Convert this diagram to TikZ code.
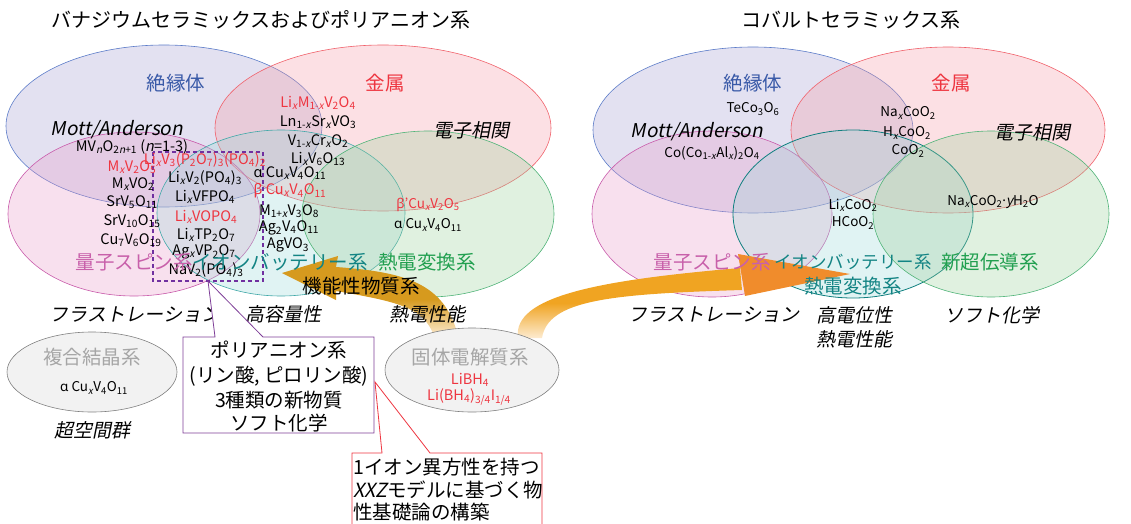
\documentclass[tikz,border=0pt]{standalone}
\usepackage{fontspec}
\setmainfont{Noto Sans CJK JP}[AutoFakeSlant=0.2]
\newfontfamily\gr{Noto Sans}
\usetikzlibrary{shapes.geometric}
\newcommand\fz[2]{\fontsize{#1}{#2}\selectfont}
\newcommand\sbs[1]{\textsubscript{#1}}
\newcommand\sbx{\textsubscript{\itshape x}}
\definecolor{cblue}{HTML}{3A5AA8}
\definecolor{cred}{HTML}{EE3540}
\definecolor{cpinkt}{HTML}{C860AA}
\definecolor{ctealt}{HTML}{138484}
\definecolor{cgreent}{HTML}{22A050}
\definecolor{cgrayt}{HTML}{A6A6A6}
\definecolor{fblue}{HTML}{B9B4DC}
\definecolor{fred}{HTML}{F59AA4}
\definecolor{fpink}{HTML}{E89AC8}
\definecolor{fteal}{HTML}{9AD6D6}
\definecolor{fgreen}{HTML}{9ACF9A}
\definecolor{dblue}{HTML}{5B7BC8}
\definecolor{dred}{HTML}{F0606A}
\definecolor{dpink}{HTML}{C85AAA}
\definecolor{dteal}{HTML}{40A8A8}
\definecolor{dteal2}{HTML}{108080}
\definecolor{dgreen}{HTML}{50B478}
\definecolor{cpurple}{HTML}{7F3F98}
\definecolor{cdash}{HTML}{7030A0}
\definecolor{agold}{HTML}{D69A1E}
\definecolor{agold2}{HTML}{F0A422}
\definecolor{aorange}{HTML}{F08C2C}
\definecolor{alight}{HTML}{FDEBD0}
\pgfdeclareverticalshading{fadeA}{100bp}{color(0bp)=(alight); color(25bp)=(alight); color(48bp)=(agold); color(100bp)=(agold)}
\pgfdeclareverticalshading{fadeB}{100bp}{color(0bp)=(alight); color(25bp)=(alight); color(50bp)=(agold2); color(100bp)=(agold2)}
\tikzset{
  vb/.style={fill=fblue, fill opacity=0.4, draw=dblue, draw opacity=1, line width=0.6pt},
  vr/.style={fill=fred, fill opacity=0.3, draw=dred, line width=0.6pt},
  vp/.style={fill=fpink, fill opacity=0.3, draw=dpink, line width=0.6pt},
  vt/.style={fill=fteal, fill opacity=0.3, draw=dteal, line width=0.6pt},
  vt2/.style={fill=fteal, fill opacity=0.3, draw=dteal2, line width=0.8pt},
  vg/.style={fill=fgreen, fill opacity=0.3, draw=dgreen, line width=0.6pt},
  grayell/.style={ellipse, draw=black!50, fill=black!5, line width=0.6pt, inner sep=0},
  lab/.style={font=\fz{19.5}{22}, inner sep=0},
  title/.style={font=\fz{20}{24}, inner sep=0},
  itl/.style={font=\fz{19}{22}\itshape, inner sep=0},
  cmp/.style={font=\fz{14.5}{16}, inner sep=0},
  scmp/.style={font=\fz{13.5}{15}, inner sep=0},
}
\begin{document}
\begin{tikzpicture}[x=1pt,y=-1pt]
\useasboundingbox (0,0) rectangle (1131,524);
% ---------- left Venn ----------
\path[vb] (164,126) ellipse [x radius=158pt, y radius=81pt];
\path[vr] (383,128) ellipse [x radius=168pt, y radius=83pt];
\path[vp] (134,214) ellipse [x radius=126pt, y radius=82pt];
\path[vt] (281,213) ellipse [x radius=124pt, y radius=83pt];
\path[vg] (428,214) ellipse [x radius=126pt, y radius=83pt];
% ---------- right Venn ----------
\path[vb] (753,130) ellipse [x radius=160pt, y radius=83pt];
\path[vr] (948,130) ellipse [x radius=157pt, y radius=83pt];
\path[vp] (712,214) ellipse [x radius=120pt, y radius=83pt];
\path[vt2] (853,214) ellipse [x radius=120pt, y radius=84pt];
\path[vg] (991,214) ellipse [x radius=118pt, y radius=83pt];
% ---------- orange arrows ----------
\shade[shading=fadeA] (338,256) -- (336,267) .. controls (405,272) and (445,283) .. (458,336)
  -- (434,336) .. controls (424,308) and (400,302) .. (336,291) -- (336,300) -- (282,273) -- cycle;
\shade[shading=fadeB] (518,338) .. controls (512,296) and (600,280) .. (740,268)
  -- (742,290) .. controls (610,294) and (548,300) .. (542,338) -- cycle;
\fill[aorange] (738,254) -- (850,274) -- (745,296) -- cycle;
% ---------- dashed box ----------
\draw[cdash, line width=1.8pt, dash pattern=on 4pt off 3pt] (153,152) rectangle (263,281);
% ---------- left texts ----------
\node[title] (T-left) at (261,20) {バナジウムセラミックスおよびポリアニオン系};
\node[lab,text=cblue] (L-ins) at (176,83) {絶縁体};
\node[lab,text=cred] (L-met) at (385,83) {金属};
\node[itl] (L-mott) at (117,130) {Mott/Anderson};
\node[itl] (L-corr) at (471,130) {電子相関};
\node[cmp] (L-c1) at (132,147) {MV\sbs{\itshape n}O\sbs{2\itshape n\upshape +1} (\textit{n}=1-3)};
\node[cmp,text=cred] (L-c2) at (132,167) {M\sbx V\sbs{2}O\sbs{5}};
\node[cmp] (L-c3) at (133,184) {M\sbx VO\sbs{2}};
\node[cmp] (L-c4) at (132,202) {SrV\sbs{5}O\sbs{11}};
\node[cmp] (L-c5) at (132,221) {SrV\sbs{10}O\sbs{15}};
\node[cmp] (L-c6) at (131,240) {Cu\sbs{7}V\sbs{6}O\sbs{19}};
\node[cmp,text=cred] (L-p0) at (205,160) {Li\sbx V\sbs{3}(P\sbs{2}O\sbs{7})\sbs{3}(PO\sbs{4})\sbs{2}};
\node[cmp] (L-p1) at (205,178) {Li\sbx V\sbs{2}(PO\sbs{4})\sbs{3}};
\node[cmp] (L-p2) at (205,197) {Li\sbx VFPO\sbs{4}};
\node[cmp,text=cred] (L-p3) at (206,217) {Li\sbx VOPO\sbs{4}};
\node[cmp] (L-p4) at (206,235) {Li\sbx TP\sbs{2}O\sbs{7}};
\node[cmp] (L-p5) at (204,252) {Ag\sbx VP\sbs{2}O\sbs{7}};
\node[cmp] (L-p6) at (206,270) {NaV\sbs{2}(PO\sbs{4})\sbs{3}};
\node[cmp,text=cred] (L-m1) at (318,103) {Li\sbx M\sbs{1-\itshape x}V\sbs{2}O\sbs{4}};
\node[cmp] (L-m2) at (318,122) {Ln\sbs{1-\itshape x}Sr\sbx VO\sbs{3}};
\node[cmp] (L-m3) at (318,141) {V\sbs{1-\itshape x}Cr\sbx O\sbs{2}};
\node[cmp] (L-m4) at (318,159) {Li\sbx V\sbs{6}O\sbs{13}};
\node[cmp] (L-m5) at (290,173) {{\gr α} Cu\sbx V\sbs{4}O\sbs{11}};
\node[cmp,text=cred] (L-m6) at (290,191) {{\gr β} Cu\sbx V\sbs{4}O\sbs{11}};
\node[cmp] (L-m7) at (289,211) {M\sbs{1+\itshape x}V\sbs{3}O\sbs{8}};
\node[cmp] (L-m8) at (289,228) {Ag\sbs{2}V\sbs{4}O\sbs{11}};
\node[cmp] (L-m9) at (288,245) {AgVO\sbs{3}};
\node[scmp,text=cred] (L-t1) at (428,205) {{\gr β}'Cu\sbx V\sbs{2}O\sbs{5}};
\node[scmp] (L-t2) at (428,225) {{\gr α} Cu\sbx V\sbs{4}O\sbs{11}};
\node[lab,text=cpinkt] (L-qs) at (134,262) {量子スピン系};
\node[lab,text=ctealt] (L-ib) at (280,262) {イオンバッテリー系};
\node[lab,text=cgreent] (L-te) at (427,262) {熱電変換系};
\node[lab] (L-func) at (361,286) {機能性物質系};
\node[itl] (L-fr) at (135,315) {フラストレーション};
\node[itl] (L-hc) at (283,314) {高容量性};
\node[itl] (L-tp) at (427,314) {熱電性能};
% ---------- gray ellipses ----------
\node[grayell, minimum width=170pt, minimum height=80pt] (G1) at (92,372) {};
\node[lab,text=cgrayt] (G1-t) at (92,357) {複合結晶系};
\node[scmp] (G1-c) at (94,388) {{\gr α} Cu\sbx V\sbs{4}O\sbs{11}};
\node[itl] (G1-s) at (92,430) {超空間群};
\node[grayell, minimum width=174pt, minimum height=84pt] (G2) at (472,370) {};
\node[lab,text=cgrayt] (G2-t) at (470,357) {固体電解質系};
\node[cmp,text=cred] (G2-c1) at (470,380) {LiBH\sbs{4}};
\node[cmp,text=cred] (G2-c2) at (469,397) {Li(BH\sbs{4})\sbs{3/4}I\sbs{1/4}};
% ---------- callouts ----------
\coordinate (ptrA) at (208,281);
\coordinate (ptrB) at (375,382);
\draw[cpurple, fill=white, line width=0.8pt] (183,337) -- (215,337) -- (ptrA) -- (263,337) -- (374,337) -- (374,433) -- (183,433) -- cycle;
\node[lab] (P1) at (279,350) {ポリアニオン系};
\node[lab] (P2) at (279,376) {(リン酸, ピロリン酸)};
\node[lab] (P3) at (279,400) {3種類の新物質};
\node[lab] (P4) at (279,423) {ソフト化学};
\draw[cred, fill=white, line width=0.8pt] (352,453) -- (382,453) -- (ptrB) -- (430,453) -- (542,453) -- (542,540) -- (352,540) -- cycle;
\node[lab, anchor=west] (R1) at (353,467) {1イオン異方性を持つ};
\node[lab, anchor=west] (R2) at (353,490) {\textit{XXZ}モデルに基づく物};
\node[lab, anchor=west] (R3) at (353,512) {性基礎論の構築};
% ---------- right texts ----------
\node[title] (T-right) at (851,20) {コバルトセラミックス系};
\node[lab,text=cblue] (R-ins) at (753,83) {絶縁体};
\node[lab,text=cred] (R-met) at (951,83) {金属};
\node[scmp] (R-c1) at (753,109) {TeCo\sbs{3}O\sbs{6}};
\node[itl] (R-mott) at (697,132) {Mott/Anderson};
\node[scmp] (R-c2) at (712,153) {Co(Co\sbs{1-\itshape x}Al\sbx)\sbs{2}O\sbs{4}};
\node[scmp] (R-c3) at (908,113) {Na\sbx CoO\sbs{2}};
\node[scmp] (R-c4) at (907,133) {H\sbx CoO\sbs{2}};
\node[scmp] (R-c5) at (908,151) {CoO\sbs{2}};
\node[itl] (R-corr) at (1032,132) {電子相関};
\node[scmp] (R-c6) at (993,202) {Na\sbx CoO\sbs{2}{\gr ·}\textit{y}H\sbs{2}O};
\node[scmp] (R-c7) at (853,205) {Li\sbx CoO\sbs{2}};
\node[scmp] (R-c8) at (853,223) {HCoO\sbs{2}};
\node[lab,text=cpinkt] (R-qs) at (712,262) {量子スピン系};
\node[font=\fz{17.5}{20}, inner sep=0, text=ctealt] (R-ib) at (853,262) {イオンバッテリー系};
\node[lab,text=cgreent] (R-sc) at (990,262) {新超伝導系};
\node[lab,text=ctealt] (R-te) at (853,286) {熱電変換系};
\node[itl] (R-fr) at (714,315) {フラストレーション};
\node[itl] (R-hp) at (854,315) {高電位性};
\node[itl] (R-tp) at (854,339) {熱電性能};
\node[itl] (R-soft) at (992,315) {ソフト化学};
\end{tikzpicture}
\end{document}
